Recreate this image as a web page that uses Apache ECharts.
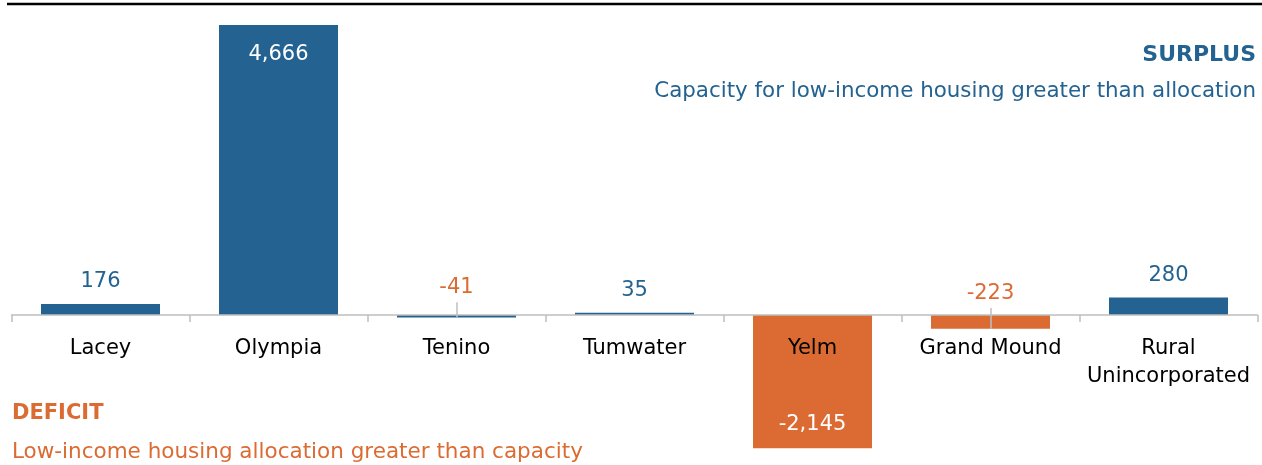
<!DOCTYPE html>
<html>
<head>
<meta charset="utf-8">
<script src="https://cdn.jsdelivr.net/npm/echarts@6/dist/echarts.min.js"></script>
<style>
html,body{margin:0;padding:0;background:#fff;}
#chart{width:1262px;height:465px;}
</style>
</head>
<body>
<div id="chart"></div>
<script>
var categories = ['Lacey', 'Olympia', 'Tenino', 'Tumwater', 'Yelm', 'Grand Mound', 'Rural\nUnincorporated'];
var values = [176, 4666, -41, 35, -2145, -223, 280];
var surplusTitle = 'SURPLUS';
var surplusText = 'Capacity for low-income housing greater than allocation';
var deficitTitle = 'DEFICIT';
var deficitText = 'Low-income housing allocation greater than capacity';

var BLUE = '#246391', ORANGE = '#DB6B32', GRAY = '#BFBFBF';
var FONT = '"DejaVu Sans"';
var Y_MIN = -2200, Y_MAX = 4700, GRID_TOP = 23, GRID_BOTTOM = 13.4, H = 465;

// pixel offset that moves the category axis from the grid bottom up to the zero line
var plotH = H - GRID_TOP - GRID_BOTTOM;
var zeroOffset = -plotH * (0 - Y_MIN) / (Y_MAX - Y_MIN);

function fmt(v){ return v.toLocaleString('en-US'); }

var smallNegDistance = { 'Tenino': 17, 'Grand Mound': 11 };

var barData = values.map(function(v, i){
  var big = Math.abs(v) > 1000;
  var color = (v < 0 && Math.abs(v) > 100) ? ORANGE : BLUE;
  var label = {
    show: true,
    fontFamily: FONT,
    fontSize: 21,
    color: big ? '#fff' : (v < 0 ? ORANGE : BLUE),
    formatter: function(p){ return fmt(p.value); }
  };
  if (big) {
    label.position = v > 0 ? 'insideTop' : 'insideBottom';
    label.distance = v > 0 ? 19 : 13;
  } else if (v > 0) {
    label.position = 'top';
    label.distance = 12;
  } else {
    label.position = 'top';
    label.distance = smallNegDistance[categories[i]] || 12;
  }
  return { value: v, itemStyle: { color: color }, label: label };
});

var leaderData = [];
values.forEach(function(v, i){
  if (v < 0 && Math.abs(v) < 1000) {
    leaderData.push([{ coord: [i, v] }, { coord: [i, v < -100 ? 113 : 204] }]);
  }
});

var chart = echarts.init(document.getElementById('chart'));
chart.setOption({
  animation: false,
  grid: { left: 11.5, right: 4.5, top: GRID_TOP, bottom: GRID_BOTTOM, outerBoundsMode: 'none', containLabel: false },
  xAxis: {
    type: 'category',
    data: categories,
    z: 10,
    offset: zeroOffset,
    axisLine: { onZero: false, lineStyle: { color: GRAY, width: 1.5 } },
    axisTick: { show: true, length: 7, lineStyle: { color: GRAY, width: 1.5 } },
    axisLabel: { interval: 0, margin: 20, color: '#000', fontFamily: FONT, fontSize: 21, lineHeight: 28 }
  },
  yAxis: {
    type: 'value', min: Y_MIN, max: Y_MAX,
    show: false, splitLine: { show: false }
  },
  series: [{
    type: 'bar',
    data: barData,
    barWidth: 119,
    markLine: {
      silent: true, symbol: 'none',
      lineStyle: { color: GRAY, width: 1.5, type: 'solid' },
      label: { show: false },
      data: leaderData
    }
  }],
  graphic: [
    { type: 'line', shape: { x1: 7, y1: 4, x2: 1262, y2: 4 }, style: { stroke: '#000', lineWidth: 2.5 } },
    { type: 'text', right: 6, top: 44, style: { text: surplusTitle, fill: BLUE, font: 'bold 22px ' + FONT } },
    { type: 'text', right: 6, top: 81, style: { text: surplusText, fill: BLUE, font: '21.4px ' + FONT } },
    { type: 'text', left: 12, top: 403, style: { text: deficitTitle, fill: ORANGE, font: 'bold 21px ' + FONT } },
    { type: 'text', left: 12, top: 441, style: { text: deficitText, fill: ORANGE, font: '21.5px ' + FONT } }
  ]
});
</script>
</body>
</html>
